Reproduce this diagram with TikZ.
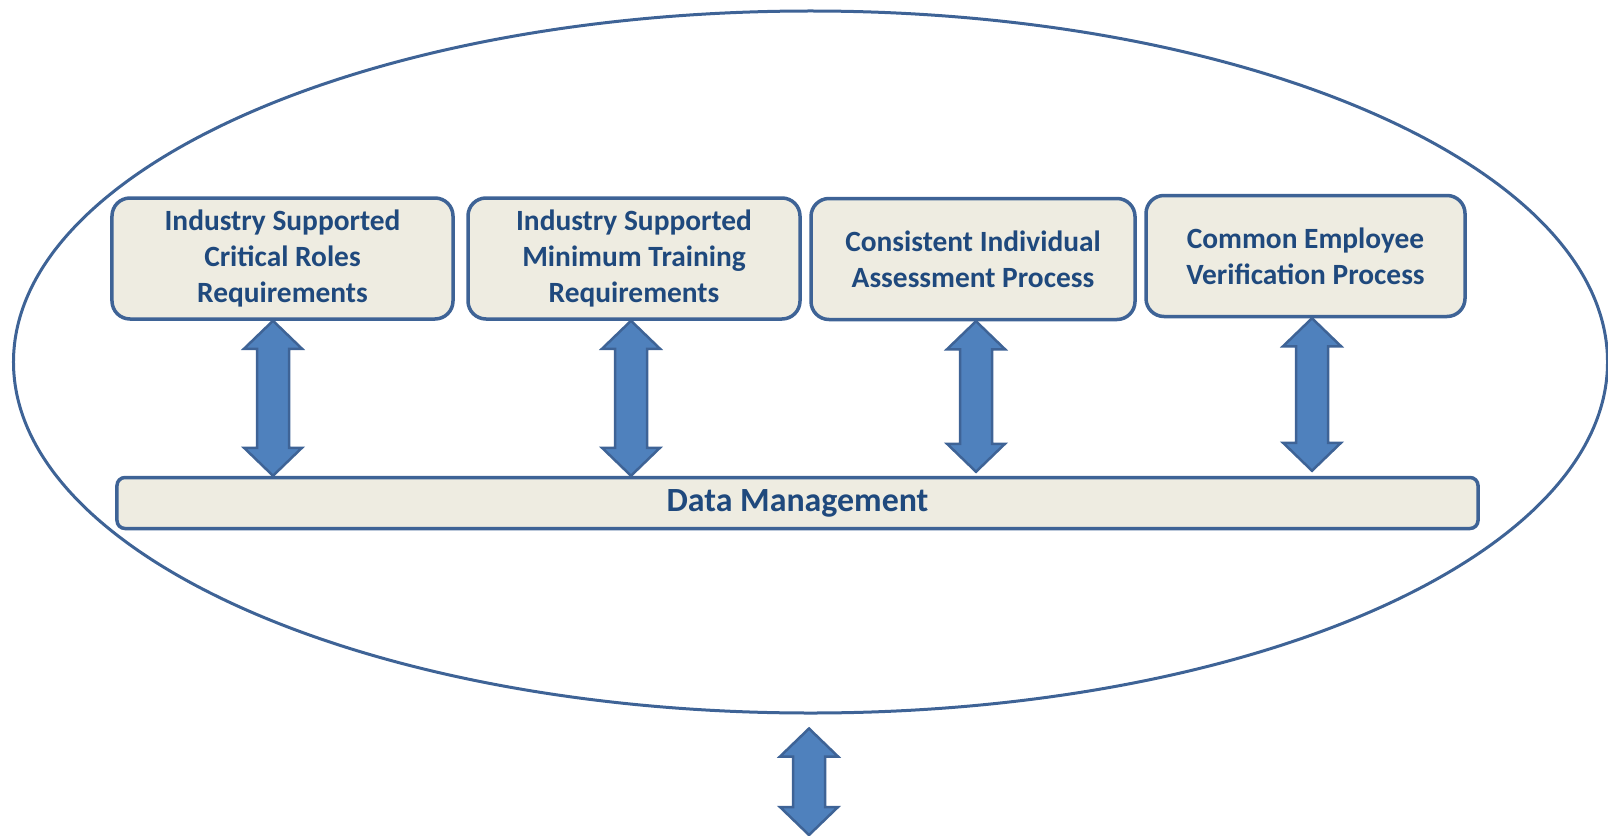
\documentclass[tikz,border=0pt]{standalone}
\usepackage{fontspec}
\setmainfont{Carlito}
\usetikzlibrary{shapes.geometric,calc,positioning}

\definecolor{boxfill}{HTML}{EEECE1}
\definecolor{boxline}{HTML}{3E6396}
\definecolor{txtblue}{HTML}{1F497D}
\definecolor{arrfill}{HTML}{4F81BD}

\begin{document}
\begin{tikzpicture}[
    x=1bp, y=-1bp,
    box/.style={draw=boxline, line width=3.5bp, rounded corners=18bp, fill=boxfill,
                text=txtblue, font=\fontsize{29.5}{36}\selectfont\bfseries,
                align=center, inner sep=0pt, minimum height=121bp},
    biarrow/.style={draw=boxline, line width=2.5bp, fill=arrfill, to path={
        let \p1=(\tikztostart), \p2=(\tikztotarget) in
        (\x1,\y1) -- (\x1+29bp,\y1-28bp) -- (\x1+16bp,\y1-28bp)
        -- (\x1+16bp,\y2+28bp) -- (\x1+29bp,\y2+28bp) -- (\x1,\y2)
        -- (\x1-29bp,\y2+28bp) -- (\x1-16bp,\y2+28bp)
        -- (\x1-16bp,\y1-28bp) -- (\x1-29bp,\y1-28bp) -- cycle}}
  ]
    \useasboundingbox (0,0) rectangle (1608,835);

    \node[draw=boxline, line width=3bp, ellipse, inner sep=0pt,
          minimum width=1594bp, minimum height=702bp] (frame) at (810.5,362) {};

    \node[box, minimum width=341bp] (crit) at (282.5,258.5) {Industry Supported\\Critical Roles\\Requirements};
    \node[box, minimum width=332bp] (train) at (634,258.5) {Industry Supported\\Minimum Training\\Requirements};
    \node[box, minimum width=324bp] (assess) at (973,259) {Consistent Individual\\Assessment Process};
    \node[box, minimum width=319bp] (verify) at (1305.5,256) {Common Employee\\Verification Process};
    \node[box, rounded corners=8bp, minimum width=1361bp, minimum height=51bp,
          font=\fontsize{34}{36}\selectfont\bfseries] (data) at (797.5,503) {Data Management};

    \coordinate (outlet) at (809,835);

    \draw[biarrow] ([xshift=-9.5bp]crit.south) to (data.north);
    \draw[biarrow] ([xshift=-3bp]train.south) to (data.north);
    \draw[biarrow] ([xshift=3bp]assess.south) to ([yshift=4bp]data.north);
    \draw[biarrow] ([xshift=6.5bp]verify.south) to ([yshift=5bp]data.north);
    \draw[biarrow] ([xshift=-1.5bp,yshift=-14bp]frame.south) to (outlet);
\end{tikzpicture}
\end{document}
